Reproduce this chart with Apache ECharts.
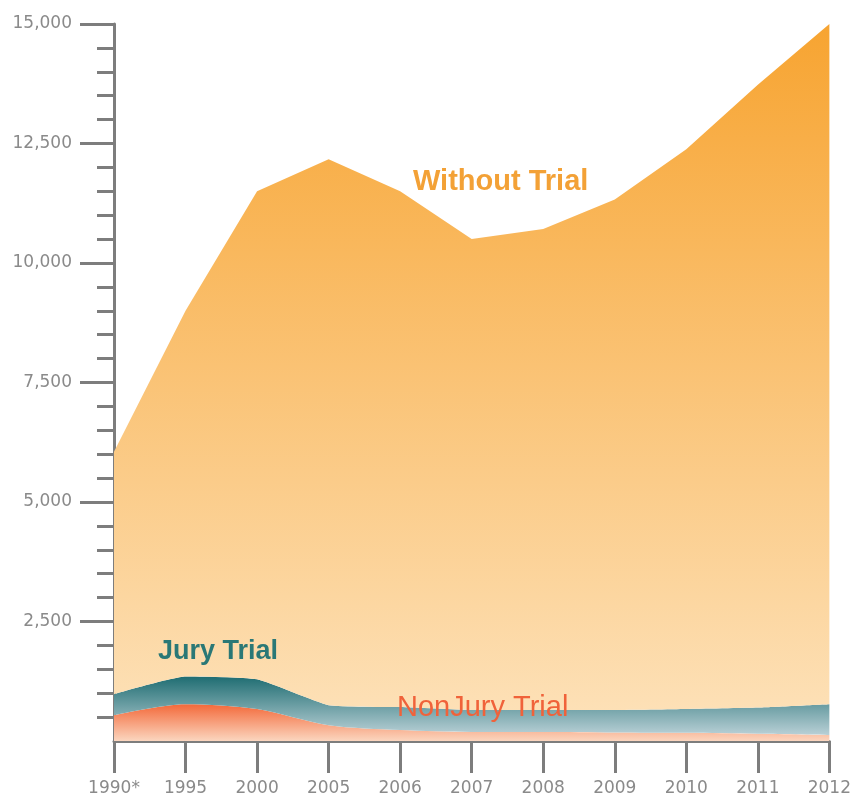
<!DOCTYPE html>
<html>
<head>
<meta charset="utf-8">
<script src="https://cdn.jsdelivr.net/npm/echarts@6/dist/echarts.min.js"></script>
<style>
html,body{margin:0;padding:0;background:#fff;}
#chart{width:854px;height:797px;}
</style>
</head>
<body>
<div id="chart"></div>
<script>
var categories = ['1990*','1995','2000','2005','2006','2007','2008','2009','2010','2011','2012'];
var nonJuryTrial = [540, 770, 670, 330, 230, 190, 190, 180, 170, 150, 125];
var juryTrial = [440, 580, 620, 420, 480, 460, 460, 470, 500, 550, 645];
var withoutTrial = [5070, 7650, 10210, 11420, 10790, 9850, 10060, 10680, 11710, 13030, 14230];
var yTicks = [2500, 5000, 7500, 10000, 12500, 15000];

function grad(top, bottom){
  return new echarts.graphic.LinearGradient(0,0,0,1,[{offset:0,color:top},{offset:1,color:bottom}]);
}
var axisGrey = '#7d7d7d';
var chart = echarts.init(document.getElementById('chart'));
chart.setOption({
  animation:false,
  backgroundColor:'#ffffff',
  grid:{left:114,right:23,top:24,bottom:53},
  xAxis:{
    type:'category', data:categories, boundaryGap:false,
    axisLine:{lineStyle:{color:axisGrey,width:3}},
    axisTick:{show:true,length:32,lineStyle:{color:axisGrey,width:3},alignWithLabel:true},
    axisLabel:{color:'#8a8a8a',fontSize:17,fontFamily:'DejaVu Sans',margin:39,interval:0}
  },
  yAxis:{
    type:'value', min:0, max:15000, interval:2500,
    splitLine:{show:false},
    axisLine:{show:true,lineStyle:{color:axisGrey,width:3}},
    axisTick:{show:true,length:34,customValues:yTicks,lineStyle:{color:axisGrey,width:3}},
    minorTick:{show:true,splitNumber:5,length:17,lineStyle:{color:axisGrey,width:3}},
    axisLabel:{color:'#8a8a8a',fontSize:17,fontFamily:'DejaVu Sans',margin:42,customValues:yTicks,
      formatter:function(v){return v===0?'':v.toLocaleString('en-US');}}
  },
  series:[
    {name:'NonJury Trial',type:'line',stack:'all',data:nonJuryTrial,symbol:'none',smooth:0.3,
      lineStyle:{width:0},areaStyle:{opacity:1,color:grad('#f3693a','#fbd6bf')}},
    {name:'Jury Trial',type:'line',stack:'all',data:juryTrial,symbol:'none',smooth:0.15,
      lineStyle:{width:0},areaStyle:{opacity:1,color:grad('#1f6d72','#b9d0d6')}},
    {name:'Without Trial',type:'line',stack:'all',data:withoutTrial,symbol:'none',
      lineStyle:{width:0},areaStyle:{opacity:1,color:grad('#f7a431','#fde0b6')}}
  ],
  graphic:[
    {type:'text',z:100,left:413,top:167,style:{text:'Without Trial',fill:'#f3a136',font:'bold 29px "Liberation Sans"'}},
    {type:'text',z:100,left:158,top:638,style:{text:'Jury Trial',fill:'#2a7876',font:'bold 27px "Liberation Sans"'}},
    {type:'text',z:100,left:397,top:693,style:{text:'NonJury Trial',fill:'#f0623a',font:'29px "Liberation Sans"'}}
  ]
});
</script>
</body>
</html>
